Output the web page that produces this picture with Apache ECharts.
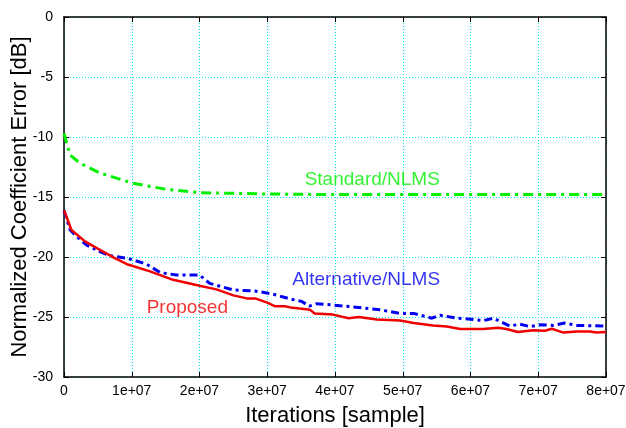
<!DOCTYPE html>
<html><head><meta charset="utf-8">
<script src="https://cdn.jsdelivr.net/npm/echarts@6/dist/echarts.min.js"></script>
<style>html,body{margin:0;padding:0;background:#fff}#c{width:626px;height:428px}</style>
</head><body><div id="c"></div>
<script>
const xTicks = ['0','1e+07','2e+07','3e+07','4e+07','5e+07','6e+07','7e+07','8e+07'];
const yTicks = [-30,-25,-20,-15,-10,-5,0];

const standardX = [0, 0.09e7, 0.24e7, 0.53e7, 1.02e7, 1.5e7, 2.0e7, 3.0e7, 4.0e7, 5.0e7, 6.0e7, 7.0e7, 8.0e7];
const standardY = [-9.7, -11.5, -12.2, -13.0, -13.86, -14.35, -14.64, -14.75, -14.8, -14.8, -14.8, -14.8, -14.8];

const alternativeX = [0, 0.09e7, 0.19e7, 0.33e7, 0.53e7, 0.68e7, 0.93e7, 1.07e7, 1.22e7, 1.42e7, 1.66e7, 2.0e7, 2.15e7, 2.5e7, 2.82e7, 3.09e7, 3.34e7, 3.51e7, 3.62e7, 3.72e7, 3.97e7, 4.35e7, 4.66e7, 4.96e7, 5.16e7, 5.43e7, 5.55e7, 5.8e7, 6.04e7, 6.19e7, 6.34e7, 6.58e7, 6.73e7, 6.88e7, 7.03e7, 7.22e7, 7.39e7, 7.57e7, 8.0e7];
const alternativeY = [-16.1, -17.75, -18.3, -19.0, -19.55, -19.9, -20.1, -20.33, -20.6, -21.3, -21.5, -21.5, -22.2, -22.75, -22.83, -23.1, -23.5, -23.7, -24.1, -23.9, -24.0, -24.2, -24.4, -24.7, -24.7, -25.1, -24.85, -25.1, -25.2, -25.3, -25.1, -25.75, -25.6, -25.8, -25.65, -25.7, -25.5, -25.7, -25.75];

const proposedX = [0, 0.11e7, 0.31e7, 0.53e7, 0.75e7, 0.93e7, 1.27e7, 1.61e7, 2.0e7, 2.25e7, 2.5e7, 2.7e7, 2.82e7, 3.0e7, 3.11e7, 3.26e7, 3.34e7, 3.48e7, 3.63e7, 3.7e7, 3.97e7, 4.2e7, 4.35e7, 4.62e7, 4.96e7, 5.16e7, 5.45e7, 5.65e7, 5.85e7, 6.19e7, 6.41e7, 6.53e7, 6.7e7, 6.93e7, 7.1e7, 7.2e7, 7.37e7, 7.57e7, 7.76e7, 7.86e7, 8.0e7];
const proposedY = [-16.1, -17.75, -18.7, -19.4, -20.1, -20.6, -21.2, -21.9, -22.4, -22.7, -23.2, -23.45, -23.45, -23.8, -24.1, -24.1, -24.2, -24.3, -24.4, -24.7, -24.8, -25.1, -25.0, -25.2, -25.3, -25.5, -25.7, -25.8, -26.0, -26.0, -25.9, -26.0, -26.25, -26.1, -26.15, -25.98, -26.3, -26.2, -26.2, -26.3, -26.25];

const seriesNames = ['Standard/NLMS', 'Alternative/NLMS', 'Proposed'];
const labelColors = ['#00f000', '#0000f0', '#f00000'];
const labelPos = [[4.55e7, -13.6], [4.46e7, -21.9], [1.82e7, -24.25]];

const zip = (xs, ys) => xs.map((x, i) => [x, ys[i]]);
const font = 'Liberation Sans, Arial, Helvetica, sans-serif';

const chart = echarts.init(document.getElementById('c'), null, {renderer: 'canvas'});
const axisCommonX = {
  type: 'value', min: 0, max: 8e7, interval: 1e7,
  axisLine: {show: true, onZero: false, lineStyle: {color: '#000', width: 1.5}},
  axisTick: {show: true, inside: true, length: 5, lineStyle: {color: '#000'}},
};
const axisCommonY = {
  type: 'value', min: -30, max: 0, interval: 5,
  axisLine: {show: true, onZero: false, lineStyle: {color: '#000', width: 1.5}},
  axisTick: {show: true, inside: true, length: 5, lineStyle: {color: '#000'}},
};
chart.setOption({
  animation: false,
  backgroundColor: '#fff',
  grid: {left: 64, right: 20, top: 17, bottom: 51, containLabel: false, outerBoundsMode: 'none'},
  xAxis: [
    Object.assign({}, axisCommonX, {
      position: 'bottom',
      name: 'Iterations [sample]', nameLocation: 'middle', nameGap: 28, nameMoveOverlap: false,
      nameTextStyle: {fontSize: 22, color: '#000', fontFamily: font},
      axisLabel: {color: '#000', fontSize: 14, fontFamily: font, margin: 7,
        formatter: (v) => xTicks[Math.round(v / 1e7)]},
      splitLine: {show: true, lineStyle: {color: '#00e5e5', type: [1, 2], width: 1}}
    }),
    Object.assign({}, axisCommonX, {
      position: 'top', axisLabel: {show: false}, splitLine: {show: false}
    })
  ],
  yAxis: [
    Object.assign({}, axisCommonY, {
      position: 'left',
      name: 'Normalized Coefficient Error [dB]', nameLocation: 'middle', nameGap: 33, nameMoveOverlap: false,
      nameTextStyle: {fontSize: 22, color: '#000', fontFamily: font},
      axisLabel: {color: '#000', fontSize: 14, fontFamily: font, margin: 11,
        formatter: (v) => String(yTicks[yTicks.indexOf(v)])},
      splitLine: {show: true, lineStyle: {color: '#00e5e5', type: [1, 2], width: 1}}
    }),
    Object.assign({}, axisCommonY, {
      position: 'right', axisLabel: {show: false}, splitLine: {show: false}
    })
  ],
  series: [
    {
      name: seriesNames[0], type: 'line', data: zip(standardX, standardY), showSymbol: false,
      lineStyle: {color: '#00f000', width: 3, type: [10, 5, 3, 5]}, z: 3
    },
    {
      name: seriesNames[1], type: 'line', data: zip(alternativeX, alternativeY), showSymbol: false,
      lineStyle: {color: '#0000f0', width: 3, type: [8, 4, 3, 4]}, z: 3
    },
    {
      name: seriesNames[2], type: 'line', data: zip(proposedX, proposedY), showSymbol: false,
      lineStyle: {color: '#f00000', width: 2.5}, z: 4
    },
    {
      type: 'scatter', symbolSize: 2, silent: true, z: 5,
      itemStyle: {color: 'rgba(255,255,255,0)'},
      label: {show: true, position: 'inside', fontSize: 19, fontFamily: font,
        formatter: (p) => seriesNames[p.dataIndex]},
      data: labelPos.map((p, i) => ({
        value: p,
        label: {color: labelColors[i]}
      }))
    }
  ]
});
</script>
</body></html>
